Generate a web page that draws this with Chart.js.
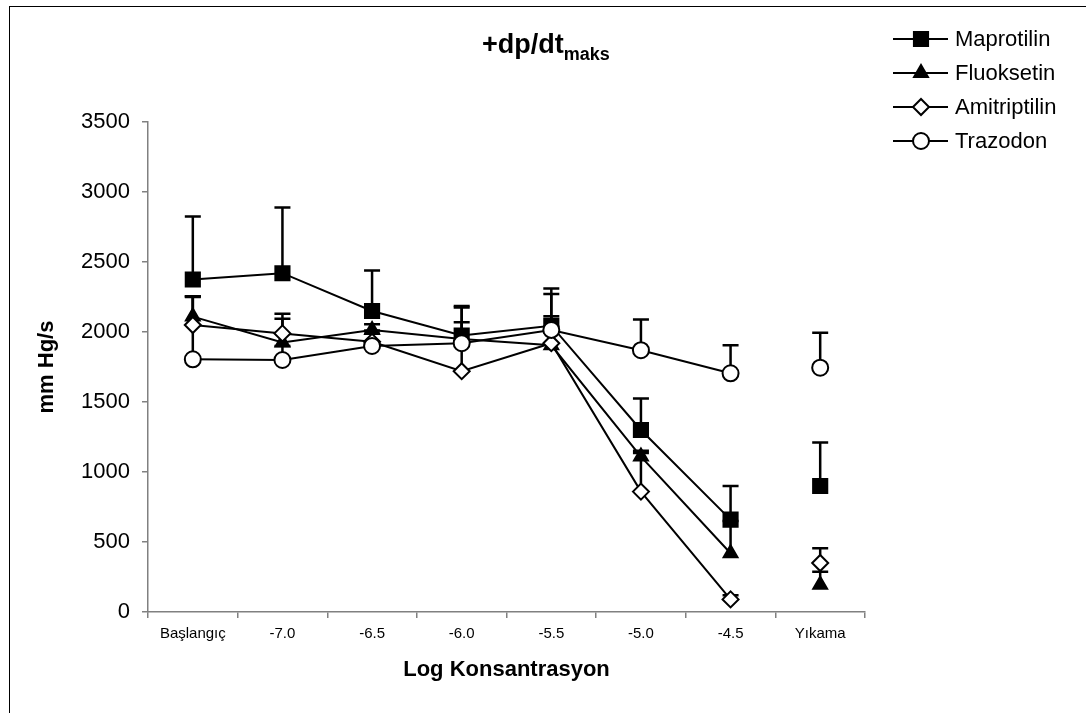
<!DOCTYPE html>
<html>
<head>
<meta charset="utf-8">
<script src="https://cdn.jsdelivr.net/npm/chart.js@4.4.0/dist/chart.umd.min.js"></script>
<style>
  html, body { margin: 0; padding: 0; background: #fff; }
  #wrap { width: 1086px; height: 713px; }
</style>
</head>
<body>
<div id="wrap"><canvas id="grafik" width="1086" height="713"></canvas></div>
<script>
// kategoriler (x ekseni)
const labels = ['Başlangıç', '-7.0', '-6.5', '-6.0', '-5.5', '-5.0', '-4.5', 'Yıkama'];

// ortalama degerler (mm Hg/s)
const maprotilin   = [2375, 2420, 2150, 1975, 2045, 1300, 660, 900];
const fluoksetin   = [2110, 1925, 2015, 1950, 1905, 1110, 420, 195];
const amitriptilin = [2050, 1990, 1930, 1720, 1920, 860, 90, 350];
const trazodon     = [1805, 1800, 1900, 1920, 2015, 1870, 1705, 1745];

// hata cubuklari (sadece ust)
const maprotilinErr   = [450, 470, 290, 210, 265, 225, 240, 310];
const fluoksetinErr   = [145, 205, 40, 225, 207, 25, 230, 93];
const amitriptilinErr = [200, 105, 60, 200, 120, 292, 30, 105];
const trazodonErr     = [450, 100, 110, 150, 257, 220, 200, 250];

const yTicks = [0, 500, 1000, 1500, 2000, 2500, 3000, 3500];

const FONT = "'Liberation Sans', Arial, sans-serif";

// Yikama noktasi cizgiye bagli degil
const hideLast = ctx => ctx.p1DataIndex === labels.length - 1 ? 'rgba(0,0,0,0)' : '#000';

function seri(label, data, err, style, fill, radius, order) {
  return {
    label: label,
    data: data,
    err: err,
    order: order,
    borderColor: '#000',
    borderWidth: 2,
    pointStyle: style,
    pointRadius: radius,
    pointBorderWidth: 2,
    pointBackgroundColor: fill,
    pointBorderColor: '#000',
    segment: { borderColor: hideLast },
    tension: 0
  };
}

const datasets = [
  seri('Maprotilin', maprotilin, maprotilinErr, 'rect', '#000', 10, 3),
  seri('Fluoksetin', fluoksetin, fluoksetinErr, 'triangle', '#000', 8, 2),
  seri('Amitriptilin', amitriptilin, amitriptilinErr, 'rectRot', '#fff', 8, 1),
  seri('Trazodon', trazodon, trazodonErr, 'circle', '#fff', 8, 0)
];

// hata cubuklari, isaretlerin arkasinda
const errorBars = {
  id: 'errorBars',
  beforeDatasetsDraw(chart) {
    const ctx = chart.ctx;
    const y = chart.scales.y;
    ctx.save();
    ctx.strokeStyle = '#000';
    ctx.lineWidth = 2.5;
    chart.data.datasets.forEach((ds, di) => {
      const meta = chart.getDatasetMeta(di);
      ds.data.forEach((v, i) => {
        const e = ds.err[i];
        if (!e) return;
        const px = meta.data[i].x;
        const y0 = y.getPixelForValue(v);
        const y1 = y.getPixelForValue(v + e);
        ctx.beginPath();
        ctx.moveTo(px, y0);
        ctx.lineTo(px, y1);
        ctx.moveTo(px - 8, y1);
        ctx.lineTo(px + 8, y1);
        ctx.stroke();
      });
    });
    ctx.restore();
  }
};

// cerceve, baslik ve lejant
const decor = {
  id: 'decor',
  afterDraw(chart) {
    const ctx = chart.ctx;
    ctx.save();
    ctx.strokeStyle = '#000';
    ctx.lineWidth = 1;
    ctx.strokeRect(9.5, 6.5, 1200, 800);

    ctx.fillStyle = '#000';
    ctx.textBaseline = 'alphabetic';
    ctx.textAlign = 'left';
    ctx.font = 'bold 27px ' + FONT;
    const t = '+dp/dt';
    ctx.fillText(t, 482, 53);
    const w = ctx.measureText(t).width;
    ctx.font = 'bold 18px ' + FONT;
    ctx.fillText('maks', 482 + w, 60);

    const rows = [39, 73, 107, 141];
    chart.data.datasets.forEach((ds, i) => {
      const ly = rows[i];
      ctx.strokeStyle = '#000';
      ctx.lineWidth = 2;
      ctx.beginPath();
      ctx.moveTo(893, ly);
      ctx.lineTo(948, ly);
      ctx.stroke();
      ctx.fillStyle = ds.pointBackgroundColor;
      Chart.helpers.drawPoint(ctx, {
        pointStyle: ds.pointStyle,
        radius: ds.pointRadius,
        borderWidth: 2,
        rotation: 0
      }, 921, ly);
      ctx.fillStyle = '#000';
      ctx.font = '22px ' + FONT;
      ctx.textBaseline = 'middle';
      ctx.fillText(ds.label, 955, ly + 1);
    });
    ctx.restore();
  }
};

new Chart(document.getElementById('grafik'), {
  type: 'line',
  data: { labels: labels, datasets: datasets },
  plugins: [errorBars, decor],
  options: {
    responsive: false,
    animation: false,
    layout: { padding: { left: 0, top: 122, right: 221, bottom: 0 } },
    plugins: {
      legend: { display: false },
      title: { display: false },
      tooltip: { enabled: false }
    },
    scales: {
      x: {
        type: 'category',
        offset: true,
        afterFit: s => { s.height = 101; },
        grid: { offset: true, drawOnChartArea: false, drawTicks: true, tickLength: 6, color: '#808080', lineWidth: 1.5 },
        border: { color: '#808080', width: 1.5 },
        ticks: { color: '#000', font: { family: FONT, size: 15 }, padding: 7, maxRotation: 0, autoSkip: false },
        title: { display: true, text: 'Log Konsantrasyon', color: '#000', font: { family: FONT, size: 22, weight: 'bold' }, padding: { bottom: 30 } }
      },
      y: {
        min: 0,
        max: 3500,
        afterFit: s => { s.width = 148; },
        afterBuildTicks: s => { s.ticks = yTicks.map(v => ({ value: v })); },
        grid: { drawOnChartArea: false, drawTicks: true, tickLength: 6, color: '#808080', lineWidth: 1.5 },
        border: { color: '#808080', width: 1.5 },
        ticks: { color: '#000', font: { family: FONT, size: 22 }, padding: 12, callback: v => String(v) },
        title: { display: true, text: 'mm Hg/s', color: '#000', font: { family: FONT, size: 22, weight: 'bold' }, padding: { top: 34 } }
      }
    }
  }
});
</script>
</body>
</html>
